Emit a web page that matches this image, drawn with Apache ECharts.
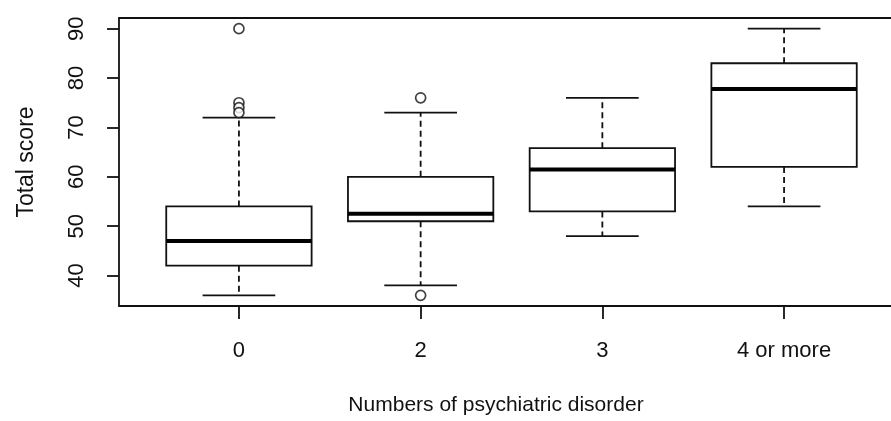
<!DOCTYPE html>
<html>
<head>
<meta charset="utf-8">
<script src="https://cdn.jsdelivr.net/npm/echarts@6/dist/echarts.min.js"></script>
<style>html,body{margin:0;padding:0;background:#fff;overflow:hidden;}#c{width:906px;height:421px;}</style>
</head>
<body>
<div id="c"></div>
<script>
// ---- data ----
const categories = ['0', '2', '3', '4 or more'];
const whiskerLow = [36, 38, 48, 54];
const q1 = [42, 51, 53, 62];
const median = [47, 52.5, 61.5, 77.8];
const q3 = [54, 60, 65.8, 83];
const whiskerHigh = [72, 73, 76, 90];
const outlierGroup = [0, 0, 0, 0, 1, 1];
const outlierValue = [90, 75, 74, 73, 76, 36];
const yTicks = [40, 50, 60, 70, 80, 90];

const boxData = categories.map((c, i) => [i + 1, whiskerLow[i], q1[i], median[i], q3[i], whiskerHigh[i]]);
const outData = outlierGroup.map((g, i) => [g + 1, outlierValue[i]]);

const FONT = 'Liberation Sans, Arial, Helvetica, sans-serif';
const chart = echarts.init(document.getElementById('c'), null, {renderer: 'canvas'});

function renderBox(params, api) {
  const x = api.value(0);
  const lo = api.coord([x, api.value(1)]);
  const b1 = api.coord([x, api.value(2)]);
  const md = api.coord([x, api.value(3)]);
  const b3 = api.coord([x, api.value(4)]);
  const hi = api.coord([x, api.value(5)]);
  const halfBox = api.size([0.4, 0])[0];
  const halfStaple = api.size([0.2, 0])[0];
  const cx = lo[0];
  const line = {stroke: '#111', lineWidth: 1.8};
  const dashed = {stroke: '#111', lineWidth: 1.8, lineDash: [6, 4]};
  return {
    type: 'group',
    children: [
      {type: 'line', shape: {x1: cx, y1: b3[1], x2: cx, y2: hi[1]}, style: dashed},
      {type: 'line', shape: {x1: cx, y1: b1[1], x2: cx, y2: lo[1]}, style: dashed},
      {type: 'line', shape: {x1: cx - halfStaple, y1: hi[1], x2: cx + halfStaple, y2: hi[1]}, style: line},
      {type: 'line', shape: {x1: cx - halfStaple, y1: lo[1], x2: cx + halfStaple, y2: lo[1]}, style: line},
      {type: 'rect', shape: {x: cx - halfBox, y: b3[1], width: 2 * halfBox, height: b1[1] - b3[1]},
        style: {fill: '#fff', stroke: '#111', lineWidth: 1.8}},
      {type: 'line', shape: {x1: cx - halfBox, y1: md[1], x2: cx + halfBox, y2: md[1]},
        style: {stroke: '#000', lineWidth: 4}}
    ]
  };
}

chart.setOption({
  backgroundColor: '#fff',
  animation: false,
  grid: {left: 119, top: 18, width: 785, height: 290, show: true, borderColor: '#111', borderWidth: 1.8, backgroundColor: 'transparent'},
  xAxis: {
    type: 'value', min: 0.34, max: 4.66,
    splitLine: {show: false},
    axisLine: {show: false},
    axisTick: {show: true, customValues: [1, 2, 3, 4], length: 13, lineStyle: {color: '#111', width: 1.8}},
    axisLabel: {customValues: [1, 2, 3, 4], formatter: v => categories[Math.round(v) - 1], margin: 34,
      fontFamily: FONT, fontSize: 22, color: '#111'},
    name: 'Numbers of psychiatric disorder', nameLocation: 'middle', nameGap: 89,
    nameTextStyle: {fontFamily: FONT, fontSize: 21, color: '#111', padding: [0, 31, 0, 0]}
  },
  yAxis: {
    type: 'value', min: 33.84, max: 92.16,
    splitLine: {show: false},
    axisLine: {show: false},
    axisTick: {show: true, customValues: yTicks, length: 12, lineStyle: {color: '#111', width: 1.8}},
    axisLabel: {customValues: yTicks, rotate: 90, margin: 31, fontFamily: FONT, fontSize: 22, color: '#111'},
    name: 'Total score', nameLocation: 'middle', nameGap: 81, nameRotate: 90,
    nameTextStyle: {fontFamily: FONT, fontSize: 23, color: '#111'}
  },
  series: [
    {type: 'custom', renderItem: renderBox, data: boxData, encode: {x: 0, y: [1, 2, 3, 4, 5]}, z: 2},
    {type: 'scatter', data: outData, symbol: 'circle', symbolSize: 10,
      itemStyle: {color: '#fff', borderColor: '#111', borderWidth: 1.7}, z: 3}
  ]
});
</script>
</body>
</html>
